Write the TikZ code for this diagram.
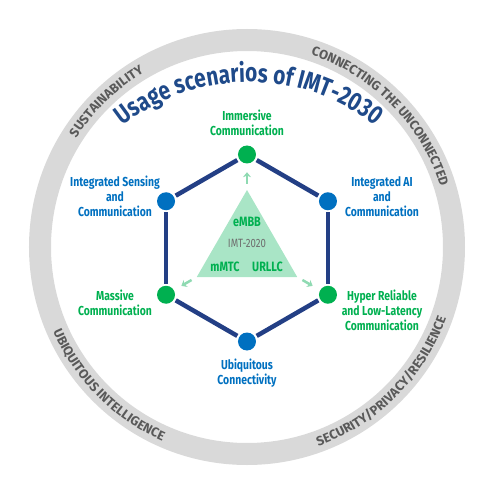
\documentclass[tikz,border=0pt]{standalone}
\usepackage{fontspec}
\setmainfont{Fira Sans}[FakeStretch=0.8]
\newfontfamily\ringfont{Fira Sans}
\usetikzlibrary{decorations.text, arrows.meta}

\definecolor{navy}{HTML}{233F85}
\definecolor{scgreen}{HTML}{00B050}
\definecolor{scblue}{HTML}{0070C0}
\definecolor{mint}{HTML}{A9E5C6}
\definecolor{mintdark}{HTML}{8FDAB2}
\definecolor{ringgray}{HTML}{D9D9D9}
\definecolor{ringtext}{HTML}{595959}
\definecolor{titleblue}{HTML}{1F4A8A}
\definecolor{imtgray}{HTML}{6E6E6E}

\begin{document}
\begin{tikzpicture}[>={Stealth[length=5pt, width=8pt]}, x=1pt, y=1pt,
    lbl/.style={font=\fontsize{13}{15}\selectfont\bfseries, align=center},
    trilbl/.style={text=scgreen, font=\fontsize{13.5}{14}\selectfont\bfseries},
    gdot/.style={circle, fill=scgreen, minimum size=18pt, inner sep=0pt},
    bdot/.style={circle, fill=scblue, minimum size=18pt, inner sep=0pt},
    hexedge/.style={navy, line width=4.5pt, shorten >=2pt, shorten <=2pt},
    hint/.style={->, mintdark, line width=2.5pt},
    ringlbl/.style={decorate, decoration={text along path, text align=center,
        text color=ringtext, text={|\ringfont\fontsize{13}{13}\selectfont\bfseries|#1}}}]
    \useasboundingbox (-247,-235) rectangle (251,247);

    % Outer ring
    \draw[ringgray, line width=22pt] (0,0) circle (207);
    \path[ringlbl=SUSTAINABILITY] (0,0) ++(156:202.5) arc[start angle=156, end angle=112, radius=202.5];
    \path[ringlbl=CONNECTING THE UNCONNECTED] (0,0) ++(82:202.5) arc[start angle=82, end angle=7, radius=202.5];
    \path[ringlbl=UBIQUITOUS INTELLIGENCE] (0,0) ++(188:211.5) arc[start angle=188, end angle=262, radius=211.5];
    \path[ringlbl=SECURITY/PRIVACY/RESILIENCE] (0,0) ++(276:211.5) arc[start angle=276, end angle=354, radius=211.5];

    % Title
    \path[decorate, decoration={text along path, text align=center, text color=titleblue,
        text={|\fontsize{26}{26}\selectfont\bfseries|Usage scenarios of IMT-2030}}]
        (2,-39) ++(140:204) arc[start angle=140, end angle=40, radius=204];

    \begin{scope}[yshift=-1pt]
        % Triangle of IMT-2020
        \coordinate (t1) at (90:58);
        \coordinate (t2) at (210:58);
        \coordinate (t3) at (330:58);
        \fill[mint] (t1) -- (t2) -- (t3) -- cycle;
        \node[trilbl] (embb) at (0,26.3) {eMBB};
        \node[text=imtgray, font=\fontsize{12}{12}\selectfont] (imt) at (0,4.7) {IMT-2020};
        \node[trilbl] (mmtc) at (-22,-18.7) {mMTC};
        \node[trilbl] (urllc) at (20.5,-18.7) {URLLC};

        % Hexagon of scenarios
        \node[gdot] (imm) at (90:93.5) {};
        \node[bdot] (ai) at (30:93.5) {};
        \node[gdot] (hrllc) at (-30:93.5) {};
        \node[bdot] (ubi) at (-90:93.5) {};
        \node[gdot] (mass) at (210:93.5) {};
        \node[bdot] (isac) at (150:93.5) {};
    \end{scope}

    \draw[hexedge] (imm) -- (ai);
    \draw[hexedge] (ai) -- (hrllc);
    \draw[hexedge] (hrllc) -- (ubi);
    \draw[hexedge] (ubi) -- (mass);
    \draw[hexedge] (mass) -- (isac);
    \draw[hexedge] (isac) -- (imm);

    % Arrows out of the triangle
    \draw[hint, shorten <=6pt, shorten >=8.5pt] (t1) -- (imm);
    \draw[hint, shorten <=6pt, shorten >=8.5pt] (t2) -- (mass);
    \draw[hint, shorten <=6pt, shorten >=8.5pt] (t3) -- (hrllc);

    % Labels
    \node[lbl, text=scgreen] (immlbl) at (0,124) {Immersive\\Communication};
    \node[lbl, text=scblue] (isaclbl) at (-132,50.3) {Integrated Sensing\\and\\Communication};
    \node[lbl, text=scblue] (ailbl) at (135,50) {Integrated AI\\and\\Communication};
    \node[lbl, text=scgreen] (masslbl) at (-132,-56) {Massive\\Communication};
    \node[lbl, text=scgreen] (hrllclbl) at (135,-63.5) {Hyper Reliable\\and Low-Latency\\Communication};
    \node[lbl, text=scblue] (ubilbl) at (0,-126) {Ubiquitous\\Connectivity};
\end{tikzpicture}
\end{document}
